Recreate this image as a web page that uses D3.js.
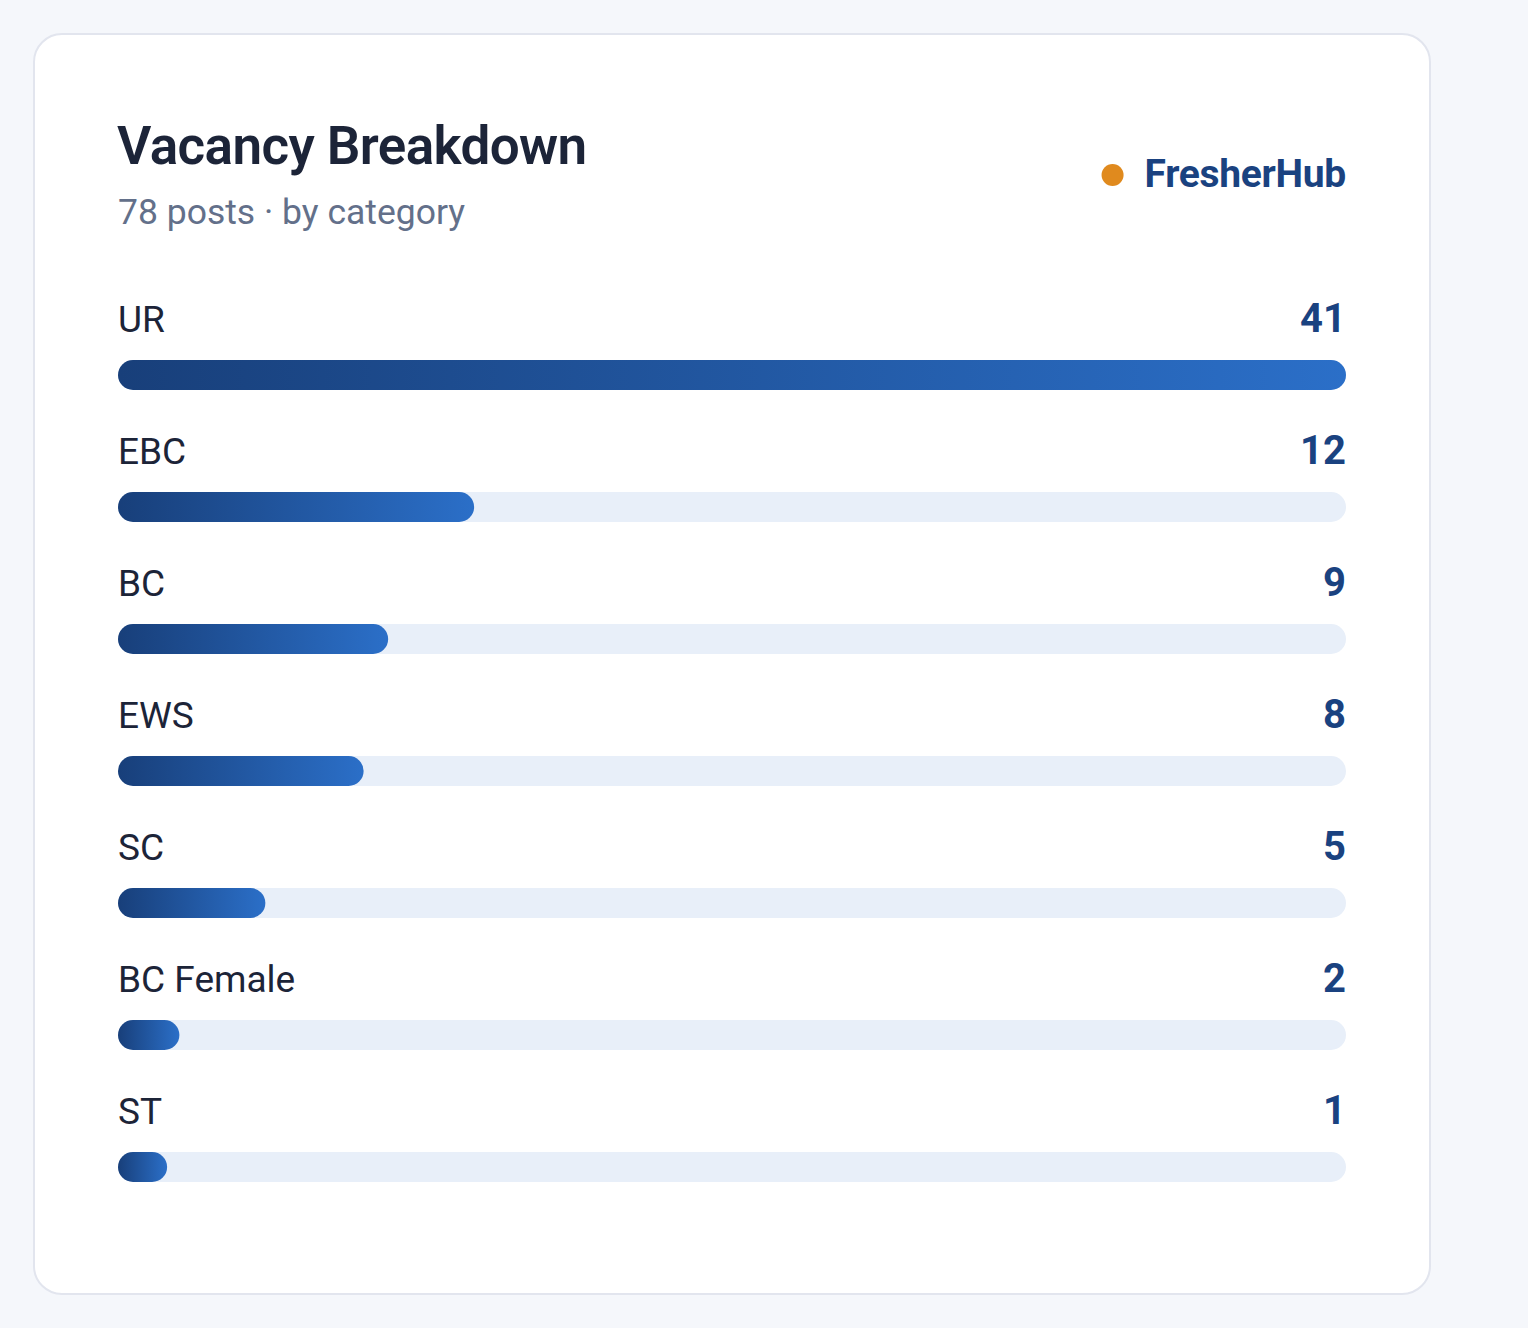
<!DOCTYPE html>
<html>
<head>
<meta charset="utf-8">
<script src="https://cdn.jsdelivr.net/npm/d3@7"></script>
<style>
  html, body { margin: 0; padding: 0; background: #f5f7fb; }
  svg { display: block; }
  text { font-family: Roboto, "Liberation Sans", Arial, sans-serif; }
</style>
</head>
<body>
<svg id="chart" width="1528" height="1328"></svg>
<script>
// ---- data ----
const categories = ["UR", "EBC", "BC", "EWS", "SC", "BC Female", "ST"];
const values = [41, 12, 9, 8, 5, 2, 1];
const totalPosts = 78;
const title = "Vacancy Breakdown";
const subtitle = totalPosts + " posts · by category";
const brand = "FresherHub";

// ---- layout ----
const W = 1528, H = 1328;
const card = { x: 34, y: 34, w: 1396, h: 1260, r: 28 };
const plotLeft = 118, plotRight = 1346;
const firstRowTop = 290, rowStep = 132, barOffset = 70, barH = 30, labelOffset = 42;

const svg = d3.select("#chart");
const defs = svg.append("defs");

const grad = defs.append("linearGradient")
  .attr("id", "barGrad")
  .attr("x1", "0%").attr("x2", "100%").attr("y1", "0%").attr("y2", "0%");
grad.append("stop").attr("offset", "0%").attr("stop-color", "#183f7a");
grad.append("stop").attr("offset", "100%").attr("stop-color", "#2b6fc8");

svg.append("rect").attr("width", W).attr("height", H).attr("fill", "#f5f7fb");
svg.append("rect")
  .attr("x", card.x).attr("y", card.y).attr("width", card.w).attr("height", card.h)
  .attr("rx", card.r).attr("ry", card.r)
  .attr("fill", "#ffffff").attr("stroke", "#e2e5ee").attr("stroke-width", 2);

// header
svg.append("text").attr("x", plotLeft - 1).attr("y", 164)
  .attr("font-size", 53).attr("font-weight", 600).attr("fill", "#1c2438")
  .attr("letter-spacing", -0.6)
  .text(title);
svg.append("text").attr("x", plotLeft).attr("y", 224)
  .attr("font-size", 35.5).attr("fill", "#63708a")
  .text(subtitle);

const brandText = svg.append("text").attr("x", plotRight).attr("y", 187)
  .attr("text-anchor", "end")
  .attr("font-size", 39).attr("font-weight", 700).attr("fill", "#1a4280")
  .attr("letter-spacing", -0.3)
  .text(brand);
const bw = brandText.node().getComputedTextLength();
svg.append("circle").attr("cx", plotRight - bw - 32).attr("cy", 175).attr("r", 11)
  .attr("fill", "#e08a1e");

// scales
const maxV = d3.max(values);
const x = d3.scaleLinear().domain([0, 100]).range([plotLeft, plotRight]);
const y = d3.scaleBand().domain(categories)
  .range([firstRowTop, firstRowTop + rowStep * categories.length]).paddingInner(0).paddingOuter(0);
const pct = v => Math.max(4, Math.round(v / maxV * 100));

const rows = svg.selectAll("g.row")
  .data(categories.map((c, i) => ({ c, v: values[i] })))
  .join("g").attr("class", "row")
  .attr("transform", d => `translate(0,${y(d.c)})`);

rows.append("text")
  .attr("x", plotLeft).attr("y", labelOffset)
  .attr("font-size", 37).attr("fill", "#1c2438")
  .text(d => d.c);

rows.append("text")
  .attr("x", plotRight).attr("y", labelOffset)
  .attr("text-anchor", "end")
  .attr("font-size", 40).attr("font-weight", 700).attr("fill", "#1a4280")
  .text(d => d.v);

rows.append("rect")
  .attr("x", x(0)).attr("y", barOffset)
  .attr("width", x(100) - x(0)).attr("height", barH)
  .attr("rx", barH / 2).attr("fill", "#e8eff9");

rows.append("rect")
  .attr("x", x(0)).attr("y", barOffset)
  .attr("width", d => x(pct(d.v)) - x(0)).attr("height", barH)
  .attr("rx", barH / 2).attr("fill", "url(#barGrad)");
</script>
</body>
</html>
